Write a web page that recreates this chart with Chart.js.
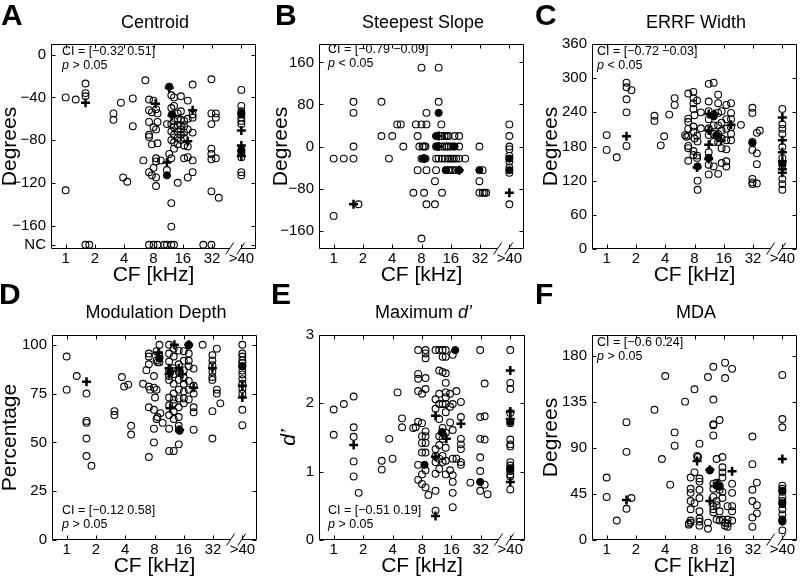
<!DOCTYPE html>
<html>
<head>
<meta charset="utf-8">
<script src="https://cdn.jsdelivr.net/npm/chart.js@4.4.1/dist/chart.umd.min.js"></script>
<style>
body { margin: 0; background: #fff; }
#fig { position: relative; width: 805px; height: 580px; overflow: hidden; color: #000;
       font-family: Arial, "Liberation Sans", Helvetica, sans-serif; }
.pan { position: absolute; }
.lt { position: absolute; font-weight: bold; font-size: 30px; line-height: 30px; }
.ttl { position: absolute; font-size: 18px; line-height: 18px; text-align: center; }
.ci { position: absolute; font-size: 12.5px; line-height: 14px; white-space: nowrap; }
</style>
</head>
<body>
<div id="fig">
  <div class="pan" id="pA"></div><div class="pan" id="pB"></div><div class="pan" id="pC"></div>
  <div class="pan" id="pD"></div><div class="pan" id="pE"></div><div class="pan" id="pF"></div>

  <div class="lt" style="left:1px;top:0px">A</div>
  <div class="lt" style="left:275px;top:0px">B</div>
  <div class="lt" style="left:535px;top:0px">C</div>
  <div class="lt" style="left:-1px;top:279px">D</div>
  <div class="lt" style="left:271px;top:279px">E</div>
  <div class="lt" style="left:535px;top:279px">F</div>

  <div class="ttl" style="left:51px;width:208px;top:13px">Centroid</div>
  <div class="ttl" style="left:319px;width:208px;top:13px">Steepest Slope</div>
  <div class="ttl" style="left:592px;width:208px;top:13px">ERRF Width</div>
  <div class="ttl" style="left:52px;width:208px;top:303px">Modulation Depth</div>
  <div class="ttl" style="left:319px;width:209px;top:303px">Maximum <i>d’</i></div>
  <div class="ttl" style="left:592px;width:208px;top:303px">MDA</div>

  <div class="ci" style="left:62px;top:44px">CI = [−0.32 0.51]<br><i>p</i> &gt; 0.05</div>
  <div class="ci" style="left:328px;top:42px">CI = [−0.79 −0.09]<br><i>p</i> &lt; 0.05</div>
  <div class="ci" style="left:597px;top:44px">CI = [−0.72 −0.03]<br><i>p</i> &lt; 0.05</div>
  <div class="ci" style="left:62px;top:503px">CI = [−0.12 0.58]<br><i>p</i> &gt; 0.05</div>
  <div class="ci" style="left:328px;top:503px">CI = [−0.51 0.19]<br><i>p</i> &gt; 0.05</div>
  <div class="ci" style="left:597px;top:335px">CI = [−0.6 0.24]<br><i>p</i> &gt; 0.05</div>
</div>

<script>
// CF axis (kHz); the ">40" column is drawn at 64
var cfTicks = [1, 2, 4, 8, 16, 32, 64];
var cfTickLabels = ['1', '2', '4', '8', '16', '32', '>40'];

// A: Centroid (degrees), NC = no centroid
var centroidNC = -178;
var centroidTicks = [0, -40, -80, -120, -160, centroidNC];
var centroidTickLabels = ['0', '\u221240', '\u221280', '\u2212120', '\u2212160', 'NC'];
var centroidOpen = [
    [1, -40], [1, -127], [1.27, -42], [1.6, -27], [1.6, -36], [1.6, -39], [1.6, centroidNC], [1.75, centroidNC],
    [3.1, -55], [3.1, -61], [3.7, -45], [3.9, -115], [4.3, -119], [4.9, -41], [4.9, -67],
    [6.3, -99], [6.6, -24], [7.2, -42], [7.2, -52], [7.2, -63], [7.2, -75], [7.2, -77], [7.2, -110], [7.2, centroidNC],
    [7.7, -54], [7.7, -84], [7.7, -113], [8, -43], [8, -68], [8, -106], [8, centroidNC],
    [8.5, -51], [8.5, -70], [8.5, -97], [8.5, -100], [8.5, -115], [8.5, -123], [8.8, -55], [8.8, -63], [8.8, -83], [8.8, centroidNC],
    [9.5, -99], [10.3, centroidNC], [11, -65], [11, -108], [11, centroidNC], [11.6, -93],
    [12.2, -38], [12.2, -50], [12.2, -65], [12.2, -72], [12.2, -80], [12.2, -97], [12.2, -139], [12.2, -161], [12.2, centroidNC],
    [13, -40], [13, -48], [13, -62], [13, -68], [13, -75], [13, -82], [13, -88], [13, centroidNC],
    [14.2, -55], [14.2, -60], [14.2, -66], [14.2, -72], [14.2, -78], [14.2, -84], [14.2, -120],
    [15.3, -39], [15.3, -53], [15.3, -61], [15.3, -66], [15.3, -70], [15.3, -75], [15.3, -80],
    [16.5, -62], [16.5, -67], [16.5, -73], [16.5, -78], [16.5, -85], [16.5, -97],
    [18, -43], [18, -60], [18, -70], [18, -86], [18, -96], [18, -115],
    [20.2, -28], [20.2, -56], [20.2, -59], [20.2, -73], [20.2, -99], [20.2, -110],
    [26, centroidNC], [31.5, -23], [31.5, -55], [31.5, -65], [31.5, -88], [31.5, -93], [31.5, -98], [31.5, -128], [31.5, centroidNC],
    [35, -55], [35, -59], [35, -97], [37.5, -134],
    [64, -33], [64, -48], [64, -53], [64, -56], [64, -59], [64, -62], [64, -65], [64, -89], [64, -92], [64, -96], [64, -110], [64, -113]
];
var centroidPlus = [[1.6, -45], [8.4, -46], [11.6, -31], [12.4, -57], [11, -101], [18, -81], [20.2, -52], [64, -71], [64, -85], [64, -95]];
var centroidFilled = [[11.6, -30], [11, -113], [64, -55], [64, -90], [12.4, -56]];

// B: Steepest slope (degrees)
var slopeTicks = [-160, -80, 0, 80, 160];
var slopeTickLabels = ['\u2212160', '\u221280', '0', '80', '160'];
var slopeOpen = [
    [1, -23], [1, -132], [1.27, -23], [1.6, 85], [1.6, 64], [1.6, 0], [1.6, -23], [1.8, -110],
    [3.1, 85], [3.1, 20], [3.7, -23], [4, 20], [4.5, 42], [4.9, 42], [5.2, 0],
    [6.6, -88], [7, 42], [7.3, 20], [7.3, -45], [7.6, 0], [8, 150], [8, 42], [8, -175], [8.2, 0], [8.5, 0], [8.8, 0],
    [8, -23], [8.3, -23], [8.8, -23], [8.5, -88], [9, 42], [9, 64], [9, -45], [9, -110],
    [11, -66], [11, -110], [11.3, 0], [11.3, -23], [11.3, -45], [12, 150], [12, 85], [12, -23],
    [12.8, 42], [12.8, 20], [13, 0], [13, -23], [13, -88], [13.8, 20], [14.5, 20], [15.2, 20], [13.8, 0], [14.5, 0], [15.2, 0], [16, 0],
    [14, -23], [15, -23], [15.8, -23], [16.5, -23], [17.2, -23], [15.2, -45], [16, -45], [16.8, -45],
    [17.5, 20], [19.5, 20], [17.5, 0], [19.5, 0], [18.2, -23], [19.5, -23], [18, -45],
    [22.5, -23], [31.5, 0], [31.5, -66], [31.5, -88], [34, -45], [34, -88], [35.5, -88], [37, -88],
    [64, 42], [64, 20], [64, 0], [64, -5], [64, -18], [64, -28], [64, -40], [64, -50], [64, -110]
];
var slopePlus = [[1.6, -110], [8.5, -23], [12, 20], [12, 0], [19.5, -45], [64, -88]];
var slopeFilled = [[12, 64], [8.5, -23], [11.3, 20], [11.5, 0], [17.2, 0], [14.2, -45], [19.5, -45], [31.5, -45], [64, -23], [64, -45]];

// C: ERRF width (degrees)
var widthTicks = [0, 60, 120, 180, 240, 300, 360];
var widthTickLabels = ['0', '60', '120', '180', '240', '300', '360'];
var widthOpen = [
    [1, 200], [1, 174], [1.27, 161], [1.6, 292], [1.6, 284], [1.6, 263], [1.6, 240], [1.6, 181], [1.8, 279],
    [3.1, 234], [3.1, 225], [3.6, 182], [3.9, 198], [4.4, 236], [5, 265], [5, 253],
    [6.4, 200], [6.9, 273], [6.9, 229], [6.9, 223], [6.9, 211], [6.9, 199], [6.6, 197], [6.9, 181], [6.9, 177], [6.9, 155],
    [7.8, 276], [7.8, 265], [7.8, 256], [7.8, 246], [8, 235], [7.8, 215], [7.8, 206], [8, 194], [7.8, 172], [7.8, 165],
    [8.5, 261], [8.5, 199], [8.5, 164], [8.5, 160], [8.6, 120], [8.6, 104], [9.3, 240], [9.3, 212], [8.6, 189],
    [11.2, 290], [11.2, 259], [11.2, 242], [11.2, 228], [11.2, 212], [11.2, 200], [11.2, 170], [11.2, 148], [11.2, 131],
    [12.6, 292], [12.6, 236], [12.6, 217], [12.6, 202], [12.6, 188], [12.6, 145],
    [14, 271], [14, 256], [14, 239], [14, 217], [14, 202], [14, 188], [14, 132],
    [15.2, 242], [15.2, 222], [15.2, 208], [15.2, 194], [15.2, 177], [15.2, 151],
    [17, 253], [17, 228], [17, 211], [17, 191], [17, 175], [17, 154], [17, 145],
    [19, 256], [19, 239], [19, 228], [19, 214], [19, 202], [19, 191],
    [24, 218], [31.5, 248], [31.5, 239], [31.5, 188], [31.5, 174], [31.5, 123], [31.5, 117], [31.5, 114],
    [35, 204], [35, 168], [35, 149], [35, 115], [37.5, 208],
    [64, 246], [64, 219], [64, 211], [64, 202], [64, 179], [64, 160], [64, 147], [64, 123], [64, 114], [64, 104]
];
var widthPlus = [[1.6, 198], [8.5, 143], [11.2, 237], [11.2, 208], [11.2, 183], [11.2, 158], [12.8, 237], [15, 190], [19, 218],
    [64, 231], [64, 191], [64, 170], [64, 154], [64, 140], [64, 134]];
var widthFilled = [[8.6, 145], [11.2, 160], [12.6, 233], [13.5, 200], [31.5, 186], [64, 150]];

// D: Modulation depth (%)
var depthTicks = [0, 25, 50, 75, 100];
var depthTickLabels = ['0', '25', '50', '75', '100'];
var depthOpen = [
    [1, 94], [1, 77], [1.27, 84], [1.6, 75], [1.6, 61], [1.6, 60], [1.6, 52], [1.6, 43], [1.8, 38],
    [3.1, 66], [3.1, 64], [3.7, 83.5], [3.9, 78.6], [4.3, 79.6], [4.6, 58.5], [4.6, 54],
    [6.1, 80], [6.6, 87], [7, 95.5], [7, 94], [7, 90], [7, 78.6], [7.2, 77], [7, 68], [7, 42.5],
    [7.9, 84], [7.9, 78], [8.1, 73], [7.9, 66.7], [7.9, 57], [7.9, 50],
    [8.4, 96.7], [8.4, 92], [8.6, 91], [8.4, 77], [8.4, 62], [8.6, 63],
    [9, 100], [9, 94], [9, 91], [9.2, 65], [9.7, 60],
    [11.3, 100], [11.3, 95.5], [11.3, 91.4], [11.3, 87], [11.3, 84], [11.3, 82], [11.3, 73], [11.3, 69], [11.3, 64], [11.3, 57], [11.3, 45.6],
    [12.6, 98], [12.6, 94], [12.6, 88], [12.6, 85], [12.6, 80], [12.6, 75], [12.6, 72], [12.6, 70], [12.6, 66], [12.6, 62], [12.6, 45.6],
    [14.2, 97], [14.2, 90], [14.2, 86], [14.2, 82], [14.2, 77], [14.2, 72.5], [14.2, 68], [14.2, 63], [14.2, 58.5], [14.2, 56.5], [14.2, 49],
    [16, 96.7], [16, 91.8], [16, 87], [16, 83], [16, 80], [16, 76], [16, 72.5], [16, 70],
    [18, 99.7], [18, 95.5], [18, 91.8], [18, 89], [18, 81.5], [18, 77], [18, 72],
    [20.2, 87.8], [20.2, 79], [20.2, 75], [20.2, 68], [20.2, 65.4], [20.2, 56.5],
    [25, 100], [31.5, 94.7], [31.5, 92], [31.5, 89.5], [31.5, 86], [31.5, 83.5], [31.5, 82], [31.5, 66], [31.5, 52],
    [35, 98], [35, 77], [35, 75], [38, 70],
    [64, 100], [64, 95.5], [64, 94], [64, 92], [64, 90.6], [64, 89], [64, 86.8], [64, 84.8], [64, 82.4], [64, 80], [64, 77.4], [64, 75], [64, 66.7], [64, 58.8]
];
var depthPlus = [[1.6, 81], [8.8, 96], [11.3, 88], [11.3, 85], [12.8, 100], [11.6, 67.5], [14.2, 88], [15.5, 85], [14.5, 56.5],
    [18, 100], [20.2, 78], [31.5, 88], [64, 79], [64, 73]];
var depthFilled = [[18, 100], [9, 93], [14.5, 56], [64, 89], [11.6, 86]];

// E: Maximum d'
var dprimeTicks = [0, 1, 2, 3];
var dprimeTickLabels = ['0', '1', '2', '3'];
var dprimeOpen = [
    [1, 1.91], [1, 1.54], [1.27, 1.99], [1.6, 2.10], [1.6, 1.65], [1.6, 1.51], [1.6, 1.15], [1.6, 0.93], [1.8, 0.69],
    [3.1, 1.16], [3.1, 1.03], [3.7, 1.48], [4, 1.19], [4.5, 2.16], [5, 1.78], [5, 1.65],
    [6.5, 1.64], [6.9, 1.65], [7.3, 2.78], [7.3, 2.43], [7.3, 2.36], [7.3, 2.18], [7.3, 1.73], [7.3, 1.10], [7.3, 0.88],
    [8, 2.14], [8, 1.71], [8, 1.52], [8, 1.42], [8, 1.28], [8, 0.96], [8, 0.82],
    [8.7, 2.78], [8.7, 2.73], [8.7, 2.66], [8.7, 2.37], [8.7, 2.21], [8.7, 1.59], [8.7, 1.52], [8.7, 1.42], [8.7, 1.28], [8.7, 1.02], [8.7, 0.77], [9.3, 0.66],
    [11, 2.78], [11, 2.06], [11, 1.92], [11, 1.33], [11, 1.23], [11, 1.14], [11, 0.97], [11, 0.72], [11, 0.43],
    [12, 2.78], [12, 2.48], [12, 2.14], [12, 1.99], [12, 1.77], [12, 1.52], [12, 1.39], [12, 1.19], [12, 1.04],
    [13, 2.78], [13, 2.68], [13, 2.46], [13, 1.99], [13, 1.64], [13, 1.48], [13, 1.23], [13, 1.14],
    [14, 2.78], [14, 2.68], [14, 2.44], [14, 2.30], [14, 2.16], [14, 2.09], [14, 1.99], [14, 1.87], [14, 1.57], [14, 1.35], [14, 1.16], [14, 0.96],
    [15.5, 2.14], [15.5, 1.95], [15.5, 1.72], [15.5, 1.02],
    [16.5, 2.71], [16.5, 1.99], [16.5, 1.61], [16.5, 1.19], [16.5, 0.95], [16.5, 0.85], [16.5, 0.69], [16.5, 0.48],
    [18, 2.18], [18, 1.19], [20, 2.02], [20, 1.80], [20, 1.48], [20, 1.40], [20, 1.33], [20, 1.14], [20, 1.10],
    [25, 0.84], [31.5, 2.78], [31.5, 1.80], [31.5, 1.48], [31.5, 1.21], [31.5, 1.01], [31.5, 0.72],
    [35, 2.29], [35, 1.81], [35, 1.47], [35, 0.81], [37.5, 0.67],
    [64, 2.78], [64, 2.30], [64, 2.21], [64, 1.86], [64, 1.71], [64, 1.47], [64, 1.40], [64, 1.37], [64, 1.14], [64, 1.09],
    [64, 1.04], [64, 1.01], [64, 0.96], [64, 0.93], [64, 0.74]
];
var dprimePlus = [[1.6, 1.39], [11, 1.82], [11, 1.22], [13, 1.55], [14.2, 1.48], [20, 1.70], [11, 0.35], [64, 2.48], [64, 1.88], [64, 1.77], [64, 0.85]];
var dprimeFilled = [[8.5, 1.1], [17.5, 2.78], [12.8, 1.58], [31.5, 0.85], [64, 1.05], [64, 1.73]];

// F: MDA (degrees)
var mdaTicks = [0, 45, 90, 135, 180];
var mdaTickLabels = ['0', '45', '90', '135', '180'];
var mdaOpen = [
    [1, 61], [1, 42], [1.27, 19], [1.6, 115], [1.6, 86], [1.6, 30.5], [1.8, 41],
    [3.1, 127], [3.7, 79], [4, 160], [4.5, 54], [5, 105], [5, 92],
    [6.4, 135], [7, 16], [7, 15], [7.3, 61], [7.3, 50], [7.3, 46], [7.3, 38], [7.3, 30], [7.3, 19], [7.3, 17],
    [8, 147], [8, 66], [8, 36], [8.5, 82], [8.7, 81],
    [9, 94], [9, 60], [9, 57], [9, 49], [9, 41], [9, 28], [9, 21], [9, 18], [9, 14],
    [11, 159], [11, 17], [11, 11],
    [12.5, 169], [12.5, 137], [12.5, 113], [12.5, 112], [12.5, 102], [12.5, 55], [12.5, 50], [12.5, 42], [12.5, 33], [12.5, 30], [12.5, 27],
    [13.5, 79], [13.5, 56], [13.5, 38], [13.5, 34], [13.5, 20],
    [14.5, 117], [14.5, 53], [14.5, 52], [14.5, 49], [14.5, 28], [14.5, 19],
    [15.5, 81], [15.5, 71], [15.5, 66], [15.5, 61], [15.5, 47], [15.5, 41], [15.5, 20],
    [16.5, 173], [16.5, 158], [16.5, 17], [16.5, 14],
    [17.5, 33], [17.5, 20], [17.5, 16], [17.5, 13],
    [19.5, 167], [19.5, 55], [19.5, 46], [19.5, 33], [19.5, 28], [19.5, 19],
    [31.5, 101], [31.5, 74], [31.5, 49], [31.5, 38], [31.5, 22], [31.5, 13],
    [35, 56], [35, 34], [35, 26],
    [64, 161], [64, 118], [64, 110], [64, 53], [64, 50], [64, 47], [64, 42], [64, 38], [64, 35], [64, 30], [64, 25], [64, 20], [64, 19], [64, 9.4]
];
var mdaPlus = [[1.6, 39], [8.5, 77], [11.5, 68.5], [11.5, 38], [19.5, 67], [64, 79], [13.8, 55]];
var mdaFilled = [[11.5, 68], [13.5, 53], [14, 53], [64, 18], [64, 48], [64, 36]];

Chart.defaults.font.family = 'Arial, "Liberation Sans", Helvetica, sans-serif';
Chart.defaults.color = '#000';

// box with inward ticks on all sides, gap + slashes in the CF axis before ">40"
var framePlugin = {
    id: 'frame',
    afterDraw: function (chart) {
        var ctx = chart.ctx, a = chart.chartArea, xs = chart.scales.x, ys = chart.scales.y;
        var L = Math.round(a.left) + 0.5, R = Math.round(a.right) - 0.5;
        var T = Math.round(a.top) + 0.5, B = Math.round(a.bottom) - 0.5;
        var gL = xs.getPixelForValue(Math.pow(2, 5.6)), gR = xs.getPixelForValue(Math.pow(2, 5.98));
        ctx.save();
        ctx.strokeStyle = '#000';
        ctx.lineWidth = 1;
        ctx.beginPath();
        ctx.moveTo(gL, B); ctx.lineTo(L, B); ctx.lineTo(L, T); ctx.lineTo(R, T); ctx.lineTo(R, B); ctx.lineTo(gR, B);
        xs.ticks.forEach(function (t) {
            var px = Math.round(xs.getPixelForValue(t.value)) + 0.5;
            ctx.moveTo(px, B); ctx.lineTo(px, B - 4);
            ctx.moveTo(px, T); ctx.lineTo(px, T + 4);
        });
        ys.ticks.forEach(function (t) {
            var py = Math.round(ys.getPixelForValue(t.value)) + 0.5;
            ctx.moveTo(L, py); ctx.lineTo(L + 4, py);
            ctx.moveTo(R, py); ctx.lineTo(R - 4, py);
        });
        ctx.moveTo(gL - 4, B + 6); ctx.lineTo(gL + 4, B - 6);
        ctx.moveTo(gR - 4, B + 6); ctx.lineTo(gR + 4, B - 6);
        ctx.stroke();
        ctx.restore();
    }
};

function pts(arr) {
    return arr.map(function (p) { return { x: p[0], y: p[1] }; });
}

function makePanel(p) {
    var wrap = document.getElementById(p.id);
    var w = p.yw + (p.R - p.L) + 4, h = 8 + (p.B - p.T) + 37;
    wrap.style.left = (p.L - p.yw) + 'px';
    wrap.style.top = (p.T - 8) + 'px';
    var cv = document.createElement('canvas');
    cv.width = w; cv.height = h;
    wrap.appendChild(cv);

    new Chart(cv.getContext('2d'), {
        type: 'scatter',
        data: {
            datasets: [
                { data: pts(p.open), pointStyle: 'circle', pointRadius: 3.4, pointBorderWidth: 1.1,
                  pointBorderColor: '#000', pointBackgroundColor: 'rgba(0,0,0,0)' },
                { data: pts(p.filled), pointStyle: 'circle', pointRadius: 3.6, pointBorderWidth: 1,
                  pointBorderColor: '#000', pointBackgroundColor: '#000' },
                { data: pts(p.plus), pointStyle: 'cross', pointRadius: 4.5, pointBorderWidth: 2.5,
                  pointBorderColor: '#000', pointBackgroundColor: '#000' }
            ]
        },
        options: {
            responsive: false, animation: false, events: [],
            layout: { padding: { top: 8, right: 4, left: 0, bottom: 0 } },
            plugins: { legend: { display: false }, tooltip: { enabled: false } },
            scales: {
                x: {
                    type: 'logarithmic', min: Math.SQRT1_2, max: 64 * Math.SQRT2, bounds: 'data',
                    grid: { display: false, drawTicks: false }, border: { display: false },
                    afterBuildTicks: function (s) { s.ticks = cfTicks.map(function (v) { return { value: v }; }); },
                    afterFit: function (s) { s.height = 37; },
                    ticks: { autoSkip: false, maxRotation: 0, padding: 1, font: { size: 15 },
                             callback: function (v, i) { return cfTickLabels[i]; } },
                    title: { display: true, text: 'CF [kHz]', font: { size: 21, lineHeight: 1 }, padding: 0 }
                },
                y: {
                    type: 'linear', min: p.yMin, max: p.yMax, bounds: 'data',
                    grid: { display: false, drawTicks: false }, border: { display: false },
                    afterBuildTicks: function (s) { s.ticks = p.ticks.map(function (v) { return { value: v }; }); },
                    afterFit: function (s) { s.width = p.yw; },
                    ticks: { autoSkip: false, padding: 5, font: { size: 15 },
                             callback: function (v, i) { return p.labels[i]; } },
                    title: { display: true, text: p.title, padding: 0,
                             font: { size: 21, lineHeight: 1, style: p.italic ? 'italic' : 'normal' } }
                }
            }
        },
        plugins: [framePlugin]
    });
}

makePanel({ id: 'pA', L: 51, T: 38, R: 259, B: 249, yw: 51, yMin: -182, yMax: 10, ticks: centroidTicks, labels: centroidTickLabels,
            title: 'Degrees', open: centroidOpen, plus: centroidPlus, filled: centroidFilled });
makePanel({ id: 'pB', L: 319, T: 38, R: 527, B: 249, yw: 48, yMin: -195, yMax: 195, ticks: slopeTicks, labels: slopeTickLabels,
            title: 'Degrees', open: slopeOpen, plus: slopePlus, filled: slopeFilled });
makePanel({ id: 'pC', L: 592, T: 38, R: 800, B: 249, yw: 51, yMin: 0, yMax: 360, ticks: widthTicks, labels: widthTickLabels,
            title: 'Degrees', open: widthOpen, plus: widthPlus, filled: widthFilled });
makePanel({ id: 'pD', L: 52, T: 329, R: 260, B: 540, yw: 52, yMin: 0, yMax: 105, ticks: depthTicks, labels: depthTickLabels,
            title: 'Percentage', open: depthOpen, plus: depthPlus, filled: depthFilled });
makePanel({ id: 'pE', L: 319, T: 329, R: 528, B: 540, yw: 40, yMin: 0, yMax: 3, ticks: dprimeTicks, labels: dprimeTickLabels,
            title: 'd\u2019', italic: true, open: dprimeOpen, plus: dprimePlus, filled: dprimeFilled });
makePanel({ id: 'pF', L: 592, T: 329, R: 800, B: 540, yw: 51, yMin: 0, yMax: 200, ticks: mdaTicks, labels: mdaTickLabels,
            title: 'Degrees', open: mdaOpen, plus: mdaPlus, filled: mdaFilled });
</script>
</body>
</html>
